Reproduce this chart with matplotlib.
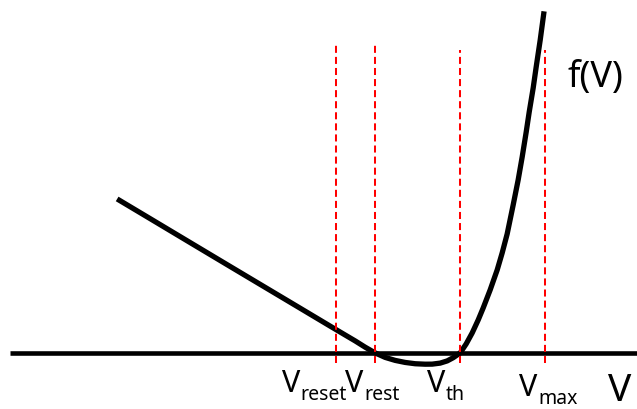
import matplotlib
matplotlib.use("Agg")
import matplotlib.pyplot as plt

plt.rcParams['font.family'] = ['Noto Sans', 'DejaVu Sans']

# membrane potential (mV) and f(V), sampled along the curve
v = [-110.53, -104.70, -97.65, -90.59, -83.53, -78.23, -72.94, -70.29, -68.53, -66.76,
     -65.00, -63.24, -61.47, -59.71, -57.94, -56.18, -54.94, -53.53, -52.29, -51.24,
     -50.00, -48.94, -47.88, -46.82, -45.94, -44.71, -43.47, -42.59, -41.71, -40.65,
     -39.77, -39.06, -38.35, -37.82, -37.12, -36.59, -35.88, -35.20]
f = [27.18, 23.70, 19.48, 15.26, 11.05, 7.89, 4.73, 3.16, 2.12, 1.01,
     0.00, -0.79, -1.32, -1.68, -1.91, -1.99, -1.98, -1.80, -1.41, -0.85,
     0.00, 1.59, 3.53, 5.82, 7.94, 11.12, 14.65, 17.65, 21.00, 26.12,
     30.53, 34.59, 39.00, 42.53, 46.76, 50.47, 55.23, 60.30]

# characteristic voltages
v_names = ["reset", "rest", "th", "max"]
v_marks = [-72.0, -65.0, -50.0, -35.0]
v_tops = [54.5, 54.5, 53.5, 53.5]

fig = plt.figure(figsize=(6.37, 4.09), dpi=100)
ax = fig.add_axes([0, 0, 1, 1])
ax.set_xlim(-131.2, -18.8)
ax.set_ylim(-9.9, 62.3)
ax.axis("off")

# V axis
ax.plot([-129.4, -18.8], [0, 0], color="black", lw=3.3, solid_capstyle="butt", zorder=2)
# f(V)
ax.plot(v, f, color="black", lw=3.8, solid_capstyle="butt",
        solid_joinstyle="round", zorder=3)

for vm, top in zip(v_marks, v_tops):
    ax.plot([vm, vm], [-1.8, top], color="red", lw=1.45, dashes=(3.5, 2.0), zorder=4)

# labels below the axis: (main x, sub x, main baseline, sub baseline)
label_pos = [(-81.4, -78.2, -6.9, -8.3),
             (-70.3, -66.9, -6.9, -8.3),
             (-55.8, -52.5, -6.9, -8.3),
             (-39.6, -36.2, -7.6, -9.0)]
for name, (xm, xs, ym, ys) in zip(v_names, label_pos):
    ax.text(xm, ym, "V", fontsize=22, ha="left", va="baseline")
    ax.text(xs, ys, name, fontsize=14, ha="left", va="baseline")

ax.text(-23.9, -8.5, "V", fontsize=28, ha="left", va="baseline")
ax.text(-31.1, 46.9, "f(V)", fontsize=26, ha="left", va="baseline")

fig.savefig("out.png", dpi=100)
